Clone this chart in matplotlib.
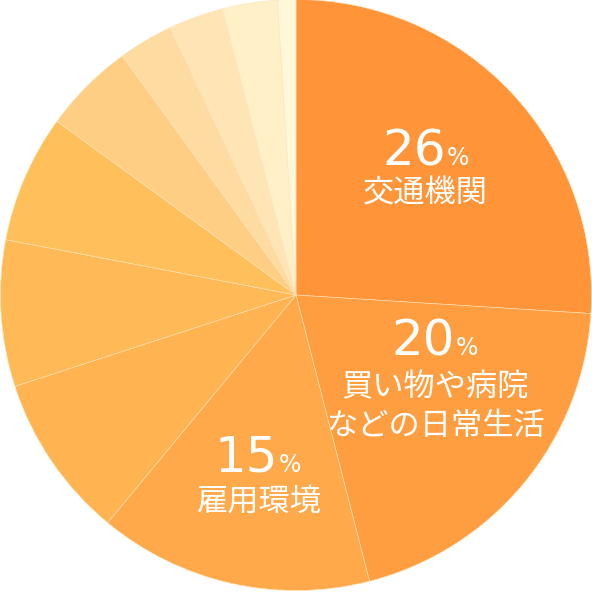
import matplotlib
matplotlib.use("Agg")
from matplotlib import pyplot as plt

plt.rcParams['font.family'] = ['Noto Sans CJK JP', 'DejaVu Sans']

# share of each item (%), clockwise from 12 o'clock
values = [26, 20, 15, 9, 8, 7, 5, 3, 3, 3, 1]
colors = ["#FF9439", "#FF9E41", "#FFA94B", "#FFB351", "#FFB957", "#FFC05C",
          "#FECE85", "#FEDBA0", "#FFE5B6", "#FFF0C8", "#FFF8D8"]

# labelled slices: percent text and name lines
labeled_pct = ["26", "20", "15"]
labeled_names = [["交通機関"], ["買い物や病院", "などの日常生活"], ["雇用環境"]]

W = 592
fig = plt.figure(figsize=(5.92, 5.92), dpi=100)
ax = fig.add_axes([0, 0, 1, 1])

ax.pie(values, colors=colors, startangle=90, counterclock=False,
       center=(296, W - 295), radius=295.5,
       wedgeprops=dict(edgecolor="#FFE3B8", linewidth=0.4))
ax.set_xlim(0, W)
ax.set_ylim(0, W)
ax.set_aspect("equal")
ax.axis("off")

# number split x, baseline y, label centre x, label line ys (pixels from top)
num_pos = [(446, 165), (455, 355), (278, 472)]
lab_pos = [(425, [193]), (435, [387, 426]), (259, [502])]

for pct, names, (nx, ny), (lx, lys) in zip(labeled_pct, labeled_names, num_pos, lab_pos):
    ax.text(nx, W - ny, pct, color="white", fontsize=36, family="DejaVu Sans",
            ha="right", va="baseline")
    ax.text(nx + 1, W - ny, "%", color="white", fontsize=17, family="DejaVu Sans",
            ha="left", va="baseline")
    for name, ly in zip(names, lys):
        ax.text(lx, W - ly, name, color="white", fontsize=22.5,
                ha="center", va="center")

fig.savefig("out.png", dpi=100)
